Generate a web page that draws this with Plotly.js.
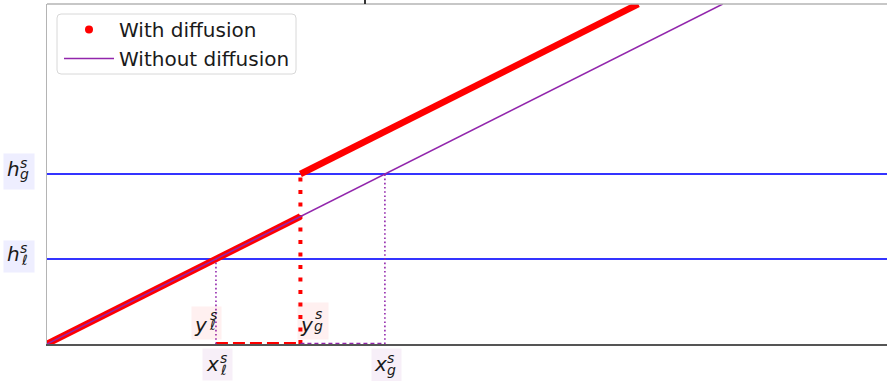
<!DOCTYPE html>
<html><head><meta charset="utf-8">
<script src="https://cdn.plot.ly/plotly-3.0.1.min.js"></script>
<style>html,body{margin:0;padding:0;background:#fff}#chart{width:887px;height:381px}</style>
</head><body><div id="chart"></div>
<script>
// ---- data ----
const levelNames = ['ℓ', 'g'];          // subscripts: liquid / gas
const hLevels = [2.5, 5];               // h_ℓ^s, h_g^s (horizontal thresholds)
const xMarks = [2.5, 5];                // x_ℓ^s, x_g^s
const ygMark = 3.75;                    // y_g^s (jump position with diffusion)
const withX = [0, 3.75, null, 3.75, 8.75];
const withY = [0, 3.75, null, 5, 10];
const withoutX = [0, 10];
const withoutY = [0, 10];
const xRange = [0, 12.43];
const yRange = [0, 10];
const seriesNames = ['With diffusion', 'Without diffusion'];

// ---- styles ----
const RED = '#ff0000', PURPLE = '#9226ac', BLUE = '#3434ff';
const FONT = 'DejaVu Sans';

const traces = [
  {x:[null], y:[null], mode:'markers', name:seriesNames[0], marker:{color:RED, size:8}},
  {x:withX, y:withY, mode:'lines', line:{color:RED, width:6.5}, showlegend:false, hoverinfo:'skip'},
  {x:[ygMark, ygMark], y:[0, hLevels[1]], mode:'lines', line:{color:RED, width:4, dash:'4px,8.5px'}, showlegend:false},
  {x:[xMarks[0], ygMark], y:[0, 0], mode:'lines', line:{color:RED, width:4, dash:'12px,5px'}, showlegend:false},
  {x:withoutX, y:withoutY, mode:'lines', name:seriesNames[1], line:{color:PURPLE, width:1.5}},
  {x:[xMarks[0], xMarks[0]], y:[0, hLevels[0]], mode:'lines', line:{color:PURPLE, width:1.6, dash:'1.6px,2.6px'}, showlegend:false},
  {x:[xMarks[1], xMarks[1]], y:[0, hLevels[1]], mode:'lines', line:{color:PURPLE, width:1.6, dash:'1.6px,2.6px'}, showlegend:false},
  {x:[ygMark, xMarks[1]], y:[0, 0], mode:'lines', line:{color:PURPLE, width:2.5, dash:'4px,3px'}, showlegend:false}
];

const shapes = hLevels.map(h => ({type:'line', xref:'paper', x0:0, x1:1, yref:'y', y0:h, y1:h,
  line:{color:BLUE, width:1.8}, layer:'below'}));
shapes.push({type:'line', xref:'paper', yref:'paper', x0:0, x1:1, y0:1, y1:1, line:{color:'#b4b4b4', width:1.5}});
// small tick mark above the top frame
shapes.push({type:'line', xref:'paper', yref:'paper', x0:318/840, x1:318/840, y0:1, y1:1 + 4/340, line:{color:'#333', width:2}});
// legend frame (rounded)
(function(){
  const x0 = 10/840, x1 = 249/840, y0 = 270/340, y1 = 330/340, rx = 4/840, ry = 4/340;
  const p = `M${x0+rx},${y1} L${x1-rx},${y1} Q${x1},${y1} ${x1},${y1-ry} L${x1},${y0+ry} Q${x1},${y0} ${x1-rx},${y0} ` +
            `L${x0+rx},${y0} Q${x0},${y0} ${x0},${y0+ry} L${x0},${y1-ry} Q${x0},${y1} ${x0+rx},${y1} Z`;
  shapes.push({type:'path', xref:'paper', yref:'paper', path:p, fillcolor:'rgba(255,255,255,0.85)',
    line:{color:'#d8d8d8', width:1}});
})();

const annotations = [];
function label(ax, xr, ay, yr, bg, box, parts) {
  annotations.push({x:ax, y:ay, xref:xr, yref:yr, text:' ', showarrow:false, xanchor:'center', yanchor:'middle',
    xshift:box[0], yshift:-box[1], width:box[2], height:box[3], bgcolor:bg, borderpad:0, font:{size:10}});
  parts.forEach(p => annotations.push({x:ax, y:ay, xref:xr, yref:yr, text:'<i>' + p[0] + '</i>', showarrow:false,
    xanchor:'center', yanchor:'middle', xshift:p[1], yshift:-p[2], font:{family:FONT, size:p[3], color:'#1a1a1a'}}));
}
const hx = -29/840;
const HBG = 'rgba(40,40,255,0.08)', YBG = 'rgba(255,40,40,0.07)', XBG = 'rgba(140,30,150,0.07)';
// h labels
label(hx, 'paper', hLevels[1], 'y', HBG, [1, -3, 30, 35], [['h', -4, -5, 20], ['s', 6, -11, 14], [levelNames[1], 6.5, 0, 14]]);
label(hx, 'paper', hLevels[0], 'y', HBG, [1, -3, 30, 31], [['h', -4, -5, 20], ['s', 6, -11, 14], [levelNames[0], 6.5, 1, 14]]);
// y labels
label(xMarks[0], 'x', 0, 'y', YBG, [-9.5, -21, 29, 32], [['y', -15, -19, 20], ['s', -2.5, -29, 14], [levelNames[0], -3.5, -19, 14]]);
label(ygMark, 'x', 0, 'y', YBG, [13, -23, 30, 36], [['y', 6.5, -19, 20], ['s', 18.5, -30, 14], [levelNames[1], 18.5, -18, 14]]);
// x labels
label(xMarks[0], 'x', 0, 'y', XBG, [1.5, 20.5, 29, 31], [['x', -3, 20, 20], ['s', 7.5, 14, 14], [levelNames[0], 7.5, 26, 14]]);
label(xMarks[1], 'x', 0, 'y', XBG, [1.5, 21, 29, 32], [['x', -4, 20, 20], ['s', 6, 14, 14], [levelNames[1], 6.5, 26, 14]]);

const layout = {
  width:887, height:381,
  margin:{l:47, r:0, t:4, b:37},
  paper_bgcolor:'#fff', plot_bgcolor:'#fff',
  showlegend:true,
  legend:{x:12/840, y:334/340, xanchor:'left', yanchor:'top', bgcolor:'rgba(0,0,0,0)',
    borderwidth:0, font:{family:FONT, size:20, color:'#1a1a1a'}, itemwidth:50},
  xaxis:{range:xRange, showgrid:false, zeroline:false, showticklabels:false, ticks:'', showline:true,
    linecolor:'#555', linewidth:1.5, fixedrange:true},
  yaxis:{range:yRange, showgrid:false, zeroline:false, showticklabels:false, ticks:'', showline:true,
    linecolor:'#b4b4b4', linewidth:1.5, fixedrange:true},
  shapes:shapes,
  annotations:annotations
};
Plotly.newPlot('chart', traces, layout, {displayModeBar:false, staticPlot:true});
</script></body></html>
